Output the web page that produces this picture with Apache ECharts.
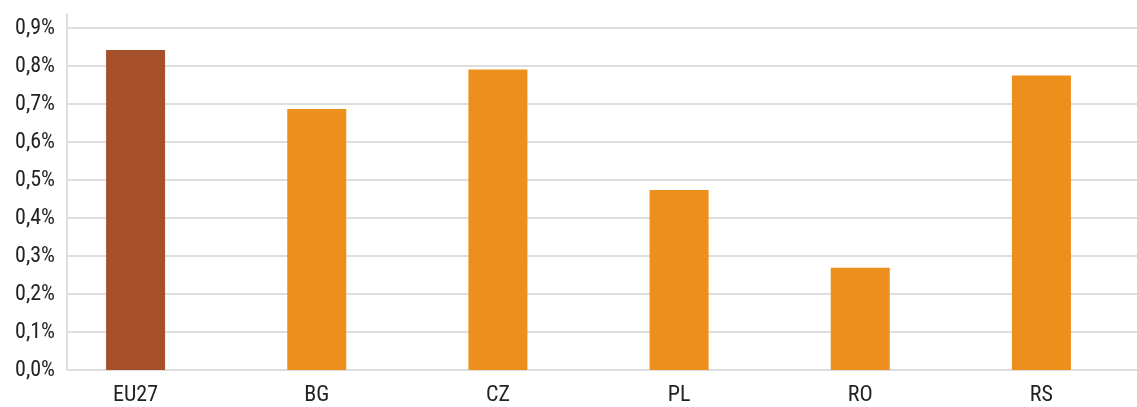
<!DOCTYPE html>
<html>
<head>
<meta charset="utf-8">
<script src="https://cdn.jsdelivr.net/npm/echarts@6/dist/echarts.min.js"></script>
<style>
html,body{margin:0;padding:0;background:#fff;}
#chart{width:1137px;height:407px;}
</style>
</head>
<body>
<div id="chart"></div>
<script>
const categories = ['EU27', 'BG', 'CZ', 'PL', 'RO', 'RS'];
const values = [0.842, 0.687, 0.791, 0.474, 0.269, 0.775];
const barColors = ['#A5502A', '#EC8F1C', '#EC8F1C', '#EC8F1C', '#EC8F1C', '#EC8F1C'];
const yTicks = [0, 0.1, 0.2, 0.3, 0.4, 0.5, 0.6, 0.7, 0.8, 0.9];

const FONT = "'Roboto Condensed', 'Liberation Sans Narrow', 'DejaVu Sans Condensed', 'Roboto', sans-serif";
const chart = echarts.init(document.getElementById('chart'), null, {renderer: 'canvas'});

const option = {
  animation: false,
  backgroundColor: '#ffffff',
  grid: [
    {left: 67, right: 0, top: 28, bottom: 37, containLabel: false},
    {left: 45, right: 5, top: 28, bottom: 37, containLabel: false},
    {left: 67, right: 0, top: 14, bottom: 37, containLabel: false}
  ],
  xAxis: [
    {gridIndex: 0, type: 'category', data: categories, show: false},
    {
      gridIndex: 1, type: 'category', data: categories,
      axisLine: {show: false}, axisTick: {show: false},
      axisLabel: {color: '#222222', fontSize: 22, fontFamily: FONT, margin: 14}
    },
    {gridIndex: 2, type: 'category', data: categories, show: false}
  ],
  yAxis: [
    {
      gridIndex: 0, type: 'value', min: yTicks[0], max: yTicks[yTicks.length - 1], interval: 0.1,
      axisLine: {show: false}, axisTick: {show: false},
      splitLine: {show: true, lineStyle: {color: '#DEDEDE', width: 2}},
      axisLabel: {
        color: '#222222', fontSize: 22, fontFamily: FONT, margin: 12,
        formatter: v => v.toFixed(1).replace('.', ',') + '%'
      }
    },
    {
      gridIndex: 1, type: 'value', min: yTicks[0], max: yTicks[yTicks.length - 1], interval: 0.1,
      show: false
    },
    {
      gridIndex: 2, type: 'value', min: 0, max: 1,
      axisLine: {show: true, lineStyle: {color: '#DEDEDE', width: 2}},
      axisTick: {show: false}, axisLabel: {show: false}, splitLine: {show: false}
    }
  ],
  series: [{
    type: 'bar',
    xAxisIndex: 1,
    yAxisIndex: 1,
    barWidth: 59,
    data: values.map((v, i) => ({value: v, itemStyle: {color: barColors[i]}}))
  }]
};
chart.setOption(option);
</script>
</body>
</html>
